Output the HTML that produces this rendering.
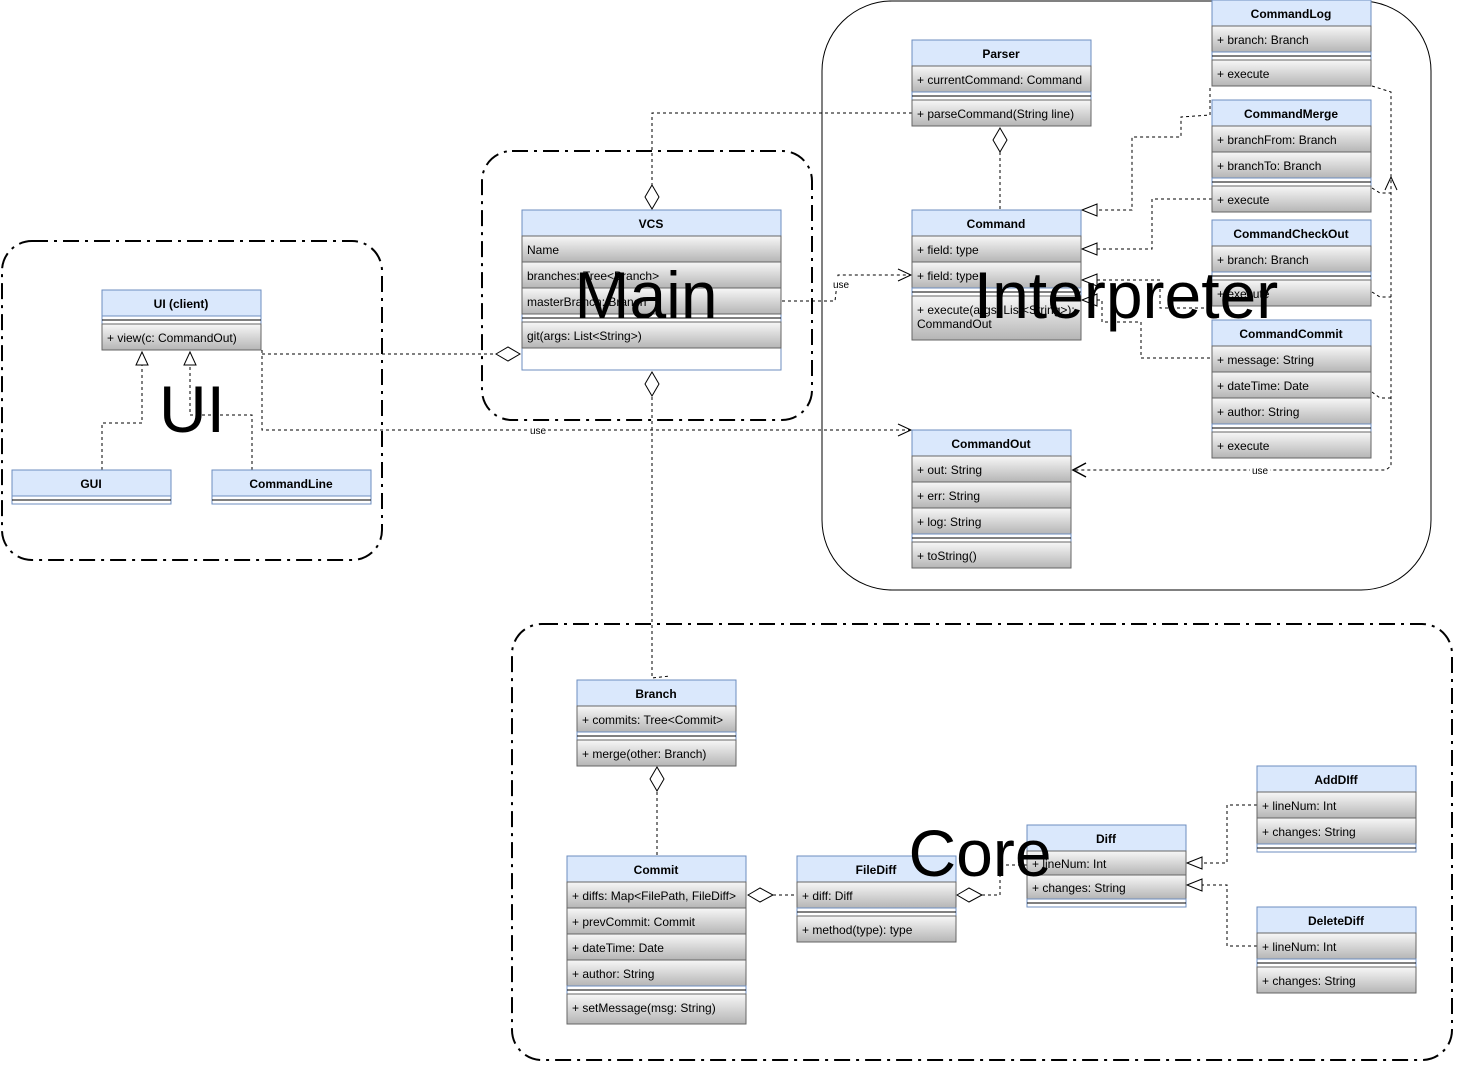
<!DOCTYPE html>
<html><head><meta charset="utf-8"><style>
html,body{margin:0;padding:0;background:#fff;}
svg{display:block;font-family:"Liberation Sans",Arial,sans-serif;}
.h{fill:#dae8fc;stroke:#6c8ebf;stroke-width:1;}
.r{fill:url(#g);stroke:#666;stroke-width:1;}
.s{fill:#fff;stroke:#6c8ebf;stroke-width:1;}
.t{font-size:12px;fill:#000;}
.b{font-size:12px;font-weight:bold;fill:#000;text-anchor:middle;}
.e{fill:none;stroke:#000;stroke-width:1;stroke-dasharray:3 3;}
.d{fill:#fff;stroke:#000;stroke-width:1;}
.big{font-size:66px;fill:#000;text-anchor:middle;}
.c{fill:none;stroke:#000;stroke-width:2;stroke-dasharray:16 6 3 6;}
.lbl{font-size:10px;fill:#000;text-anchor:middle;}
</style></head><body>
<svg width="1463" height="1073" viewBox="0 0 1463 1073" xmlns="http://www.w3.org/2000/svg">
<defs>
<linearGradient id="g" x1="0" y1="0" x2="0" y2="1"><stop offset="0" stop-color="#f7f7f7"/><stop offset="1" stop-color="#b5b5b5"/></linearGradient>
</defs>

<!-- containers -->
<rect class="c" x="2" y="241" width="380" height="319" rx="30"/>
<rect class="c" x="482" y="151" width="330" height="269" rx="30"/>
<rect x="822" y="1" width="609" height="589" rx="70" fill="none" stroke="#000" stroke-width="1"/>
<rect class="c" x="512" y="624" width="940" height="436" rx="30"/>

<!-- edges -->
<path class="e" d="M1000,152 L1000,210"/>
<path class="e" d="M912,113 L652,113 L652,185"/>
<path class="e" d="M1210,88 L1210,115 L1181,117 L1181,137 L1132,137 L1132,210 L1097,210"/>
<path class="e" d="M1212,199 L1152,199 L1152,249 L1097,249"/>
<path class="e" d="M1097,280 L1160,280 L1160,308 L1212,308"/>
<path class="e" d="M1097,300 L1102,300 L1102,322 L1141,322 L1141,358 L1212,358"/>
<path class="e" d="M782,301 L835,301 L838,275 L910,275"/>
<path class="e" d="M262,354 L495,354"/>
<path class="e" d="M262,350 L262,430 L910,430"/>
<path class="e" d="M652,397 L652,678 L670,676"/>
<path class="e" d="M1372,86 L1391,92 L1391,466 L1386,470 L1074,470"/>
<path class="e" d="M1372,188 L1380,193 L1391,193"/>
<path class="e" d="M1372,292 L1380,297 L1391,297"/>
<path class="e" d="M1372,392 L1380,398 L1391,398"/>
<path class="e" d="M102,470 L102,423 L142,423 L142,365"/>
<path class="e" d="M252,470 L252,415 L190,415 L190,365"/>
<path class="e" d="M657,792 L657,857"/>
<path class="e" d="M773,895 L797,895"/>
<path class="e" d="M982,895 L1000,895 L1000,865 L1027,865"/>
<path class="e" d="M1257,805 L1227,805 L1227,863 L1202,863"/>
<path class="e" d="M1257,946 L1227,946 L1227,885 L1202,885"/>

<!-- markers -->
<polygon class="d" points="1000,128 1007,140 1000,152 993,140"/>
<polygon class="d" points="652,185 659,197 652,209 645,197"/>
<polygon class="d" points="496,354 508,347 520,354 508,361"/>
<polygon class="d" points="652,372 659,384 652,396 645,384"/>
<polygon class="d" points="657,767 664,779 657,791 650,779"/>
<polygon class="d" points="748,895 760,888 773,895 760,902"/>
<polygon class="d" points="957,895 969,888 982,895 969,902"/>
<polygon class="d" points="1082,210 1097,204 1097,216"/>
<polygon class="d" points="1082,249 1097,243 1097,255"/>
<polygon class="d" points="1082,280 1097,274 1097,286"/>
<polygon class="d" points="1082,300 1097,294 1097,306"/>
<polygon class="d" points="142,352 136,365 148,365"/>
<polygon class="d" points="190,352 184,365 196,365"/>
<polygon class="d" points="1187,863 1202,857 1202,869"/>
<polygon class="d" points="1187,885 1202,879 1202,891"/>
<path d="M898,269 L911,275 L898,281" fill="none" stroke="#000"/>
<path d="M898,424 L911,430 L898,436" fill="none" stroke="#000"/>
<path d="M1086,463 L1073,470 L1086,477" fill="none" stroke="#000" stroke-width="1.5"/>
<path d="M1385,190 L1391,177 L1397,190" fill="none" stroke="#000"/>
<rect x="832" y="279" width="18" height="11" fill="#fff"/><text class="lbl" x="841" y="288">use</text>
<rect x="529" y="425" width="18" height="11" fill="#fff"/><text class="lbl" x="538" y="434">use</text>
<rect x="1250" y="465" width="20" height="11" fill="#fff"/><text class="lbl" x="1260" y="474">use</text>

<!-- Parser -->
<rect class="h" x="912" y="40" width="179" height="26"/><text class="b" x="1001" y="58">Parser</text>
<rect class="r" x="912" y="66" width="179" height="26"/><text class="t" x="917" y="84">+ currentCommand: Command</text>
<rect class="s" x="912" y="92" width="179" height="8"/><line x1="912" y1="96" x2="1091" y2="96" stroke="#000"/>
<rect class="r" x="912" y="100" width="179" height="26"/><text class="t" x="917" y="118">+ parseCommand(String line)</text>

<!-- CommandLog -->
<rect class="h" x="1212" y="0" width="159" height="26"/><text class="b" x="1291" y="18">CommandLog</text>
<rect class="r" x="1212" y="26" width="159" height="26"/><text class="t" x="1217" y="44">+ branch: Branch</text>
<rect class="s" x="1212" y="52" width="159" height="8"/><line x1="1212" y1="56" x2="1371" y2="56" stroke="#000"/>
<rect class="r" x="1212" y="60" width="159" height="26"/><text class="t" x="1217" y="78">+ execute</text>

<!-- CommandMerge -->
<rect class="h" x="1212" y="100" width="159" height="26"/><text class="b" x="1291" y="118">CommandMerge</text>
<rect class="r" x="1212" y="126" width="159" height="26"/><text class="t" x="1217" y="144">+ branchFrom: Branch</text>
<rect class="r" x="1212" y="152" width="159" height="26"/><text class="t" x="1217" y="170">+ branchTo: Branch</text>
<rect class="s" x="1212" y="178" width="159" height="8"/><line x1="1212" y1="182" x2="1371" y2="182" stroke="#000"/>
<rect class="r" x="1212" y="186" width="159" height="26"/><text class="t" x="1217" y="204">+ execute</text>

<!-- Command -->
<rect class="h" x="912" y="210" width="169" height="26"/><text class="b" x="996" y="228">Command</text>
<rect class="r" x="912" y="236" width="169" height="26"/><text class="t" x="917" y="254">+ field: type</text>
<rect class="r" x="912" y="262" width="169" height="26"/><text class="t" x="917" y="280">+ field: type</text>
<rect class="s" x="912" y="288" width="169" height="8"/><line x1="912" y1="292" x2="1081" y2="292" stroke="#000"/>
<rect class="r" x="912" y="296" width="169" height="44"/><text class="t" x="917" y="314">+ execute(args: List&lt;String&gt;):</text><text class="t" x="917" y="328">CommandOut</text>

<!-- CommandCheckOut -->
<rect class="h" x="1212" y="220" width="159" height="26"/><text class="b" x="1291" y="238">CommandCheckOut</text>
<rect class="r" x="1212" y="246" width="159" height="26"/><text class="t" x="1217" y="264">+ branch: Branch</text>
<rect class="s" x="1212" y="272" width="159" height="8"/><line x1="1212" y1="276" x2="1371" y2="276" stroke="#000"/>
<rect class="r" x="1212" y="280" width="159" height="26"/><text class="t" x="1217" y="298">+ execute</text>

<!-- CommandCommit -->
<rect class="h" x="1212" y="320" width="159" height="26"/><text class="b" x="1291" y="338">CommandCommit</text>
<rect class="r" x="1212" y="346" width="159" height="26"/><text class="t" x="1217" y="364">+ message: String</text>
<rect class="r" x="1212" y="372" width="159" height="26"/><text class="t" x="1217" y="390">+ dateTime: Date</text>
<rect class="r" x="1212" y="398" width="159" height="26"/><text class="t" x="1217" y="416">+ author: String</text>
<rect class="s" x="1212" y="424" width="159" height="8"/><line x1="1212" y1="428" x2="1371" y2="428" stroke="#000"/>
<rect class="r" x="1212" y="432" width="159" height="26"/><text class="t" x="1217" y="450">+ execute</text>

<!-- CommandOut -->
<rect class="h" x="912" y="430" width="159" height="26"/><text class="b" x="991" y="448">CommandOut</text>
<rect class="r" x="912" y="456" width="159" height="26"/><text class="t" x="917" y="474">+ out: String</text>
<rect class="r" x="912" y="482" width="159" height="26"/><text class="t" x="917" y="500">+ err: String</text>
<rect class="r" x="912" y="508" width="159" height="26"/><text class="t" x="917" y="526">+ log: String</text>
<rect class="s" x="912" y="534" width="159" height="8"/><line x1="912" y1="538" x2="1071" y2="538" stroke="#000"/>
<rect class="r" x="912" y="542" width="159" height="26"/><text class="t" x="917" y="560">+ toString()</text>

<!-- VCS -->
<rect x="522" y="210" width="259" height="160" fill="#fff" stroke="#6c8ebf"/>
<rect class="h" x="522" y="210" width="259" height="26"/><text class="b" x="651" y="228">VCS</text>
<rect class="r" x="522" y="236" width="259" height="26"/><text class="t" x="527" y="254">Name</text>
<rect class="r" x="522" y="262" width="259" height="26"/><text class="t" x="527" y="280">branches: Tree&lt;Branch&gt;</text>
<rect class="r" x="522" y="288" width="259" height="26"/><text class="t" x="527" y="306">masterBranch: Branch</text>
<line x1="522" y1="318" x2="781" y2="318" stroke="#000"/>
<rect class="r" x="522" y="322" width="259" height="26"/><text class="t" x="527" y="340">git(args: List&lt;String&gt;)</text>

<!-- UI -->
<rect class="h" x="102" y="290" width="159" height="26"/><text class="b" x="181" y="308">UI (client)</text>
<rect class="s" x="102" y="316" width="159" height="8"/><line x1="102" y1="320" x2="261" y2="320" stroke="#000"/>
<rect class="r" x="102" y="324" width="159" height="26"/><text class="t" x="107" y="342">+ view(c: CommandOut)</text>

<rect class="h" x="12" y="470" width="159" height="26"/><text class="b" x="91" y="488">GUI</text>
<rect class="s" x="12" y="496" width="159" height="8"/><line x1="12" y1="500" x2="171" y2="500" stroke="#000"/>
<rect class="h" x="212" y="470" width="159" height="26"/><text class="b" x="291" y="488">CommandLine</text>
<rect class="s" x="212" y="496" width="159" height="8"/><line x1="212" y1="500" x2="371" y2="500" stroke="#000"/>

<!-- Branch -->
<rect class="h" x="577" y="680" width="159" height="26"/><text class="b" x="656" y="698">Branch</text>
<rect class="r" x="577" y="706" width="159" height="26"/><text class="t" x="582" y="724">+ commits: Tree&lt;Commit&gt;</text>
<rect class="s" x="577" y="732" width="159" height="8"/><line x1="577" y1="736" x2="736" y2="736" stroke="#000"/>
<rect class="r" x="577" y="740" width="159" height="26"/><text class="t" x="582" y="758">+ merge(other: Branch)</text>

<!-- Commit -->
<rect class="h" x="567" y="856" width="179" height="26"/><text class="b" x="656" y="874">Commit</text>
<rect class="r" x="567" y="882" width="179" height="26"/><text class="t" x="572" y="900">+ diffs: Map&lt;FilePath, FileDiff&gt;</text>
<rect class="r" x="567" y="908" width="179" height="26"/><text class="t" x="572" y="926">+ prevCommit: Commit</text>
<rect class="r" x="567" y="934" width="179" height="26"/><text class="t" x="572" y="952">+ dateTime: Date</text>
<rect class="r" x="567" y="960" width="179" height="26"/><text class="t" x="572" y="978">+ author: String</text>
<rect class="s" x="567" y="986" width="179" height="8"/><line x1="567" y1="990" x2="746" y2="990" stroke="#000"/>
<rect class="r" x="567" y="994" width="179" height="30"/><text class="t" x="572" y="1012">+ setMessage(msg: String)</text>

<!-- FileDiff -->
<rect class="h" x="797" y="856" width="159" height="26"/><text class="b" x="876" y="874">FileDiff</text>
<rect class="r" x="797" y="882" width="159" height="26"/><text class="t" x="802" y="900">+ diff: Diff</text>
<rect class="s" x="797" y="908" width="159" height="8"/><line x1="797" y1="912" x2="956" y2="912" stroke="#000"/>
<rect class="r" x="797" y="916" width="159" height="26"/><text class="t" x="802" y="934">+ method(type): type</text>

<!-- Diff -->
<rect class="h" x="1027" y="825" width="159" height="26"/><text class="b" x="1106" y="843">Diff</text>
<rect class="r" x="1027" y="851" width="159" height="24"/><text class="t" x="1032" y="868">+ lineNum: Int</text>
<rect class="r" x="1027" y="875" width="159" height="24"/><text class="t" x="1032" y="892">+ changes: String</text>
<rect class="s" x="1027" y="899" width="159" height="8"/><line x1="1027" y1="903" x2="1186" y2="903" stroke="#000"/>

<!-- AddDiff -->
<rect class="h" x="1257" y="766" width="159" height="26"/><text class="b" x="1336" y="784">AddDIff</text>
<rect class="r" x="1257" y="792" width="159" height="26"/><text class="t" x="1262" y="810">+ lineNum: Int</text>
<rect class="r" x="1257" y="818" width="159" height="26"/><text class="t" x="1262" y="836">+ changes: String</text>
<rect class="s" x="1257" y="844" width="159" height="8"/><line x1="1257" y1="848" x2="1416" y2="848" stroke="#000"/>

<!-- DeleteDiff -->
<rect class="h" x="1257" y="907" width="159" height="26"/><text class="b" x="1336" y="925">DeleteDiff</text>
<rect class="r" x="1257" y="933" width="159" height="26"/><text class="t" x="1262" y="951">+ lineNum: Int</text>
<rect class="s" x="1257" y="959" width="159" height="8"/><line x1="1257" y1="963" x2="1416" y2="963" stroke="#000"/>
<rect class="r" x="1257" y="967" width="159" height="26"/><text class="t" x="1262" y="985">+ changes: String</text>

<!-- big labels -->
<text class="big" x="192" y="432">UI</text>
<text class="big" x="646" y="318">Main</text>
<text class="big" x="1126" y="318">Interpreter</text>
<text class="big" x="980" y="876">Core</text>
</svg>
</body></html>
